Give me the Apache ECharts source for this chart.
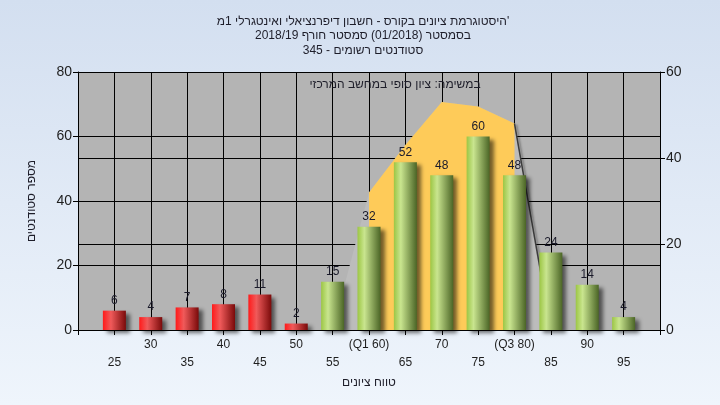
<!DOCTYPE html>
<html>
<head>
<meta charset="utf-8">
<script src="https://cdn.jsdelivr.net/npm/echarts@6/dist/echarts.min.js"></script>
<style>
html,body{margin:0;padding:0;width:720px;height:405px;overflow:hidden;}
#c{width:720px;height:405px;}
</style>
</head>
<body>
<div id="c"></div>
<script>
const titleLines = [
  "היסטוגרמת ציונים בקורס - חשבון דיפרנציאלי ואינטגרלי 1מ'",
  "בסמסטר (01/2018) סמסטר חורף 2018/19",
  "סטודנטים רשומים - 345"
];
const noteText = "במשימה: ציון סופי במחשב המרכזי";
const xAxisName = "טווח ציונים";
const yAxisName = "מספר סטודנטים";
const categories = ['25','30','35','40','45','50','55','(Q1 60)','65','70','75','(Q3 80)','85','90','95'];
const students = [6,4,7,8,11,2,15,32,52,48,60,48,24,14,4];
const failCount = 6; // first six categories shown in red
const curveOutline = [null,null,null,null,null,null,0,32,43,53,52,48,0,0,null];
const curveQuartile = [null,null,null,null,null,null,null,32,43,53,52,48,null,null,null];
const curveDrop = [null,null,null,null,null,null,null,null,null,null,null,48,0,null,null];
const leftTicks = {min:0,max:80,interval:20};
const rightTicks = {min:0,max:60,interval:20};

const pad = arr => [null].concat(arr, [null]);
const xData = [''].concat(categories, ['']);

const redGrad = new echarts.graphic.LinearGradient(0,0,1,0,[
  {offset:0,color:'#ff1a1a'},{offset:0.35,color:'#f05a5a'},{offset:1,color:'#7a0a0a'}]);
const greenGrad = new echarts.graphic.LinearGradient(0,0,1,0,[
  {offset:0,color:'#9cc644'},{offset:0.3,color:'#c9e58f'},{offset:1,color:'#4b6526'}]);

const chart = echarts.init(document.getElementById('c'), null, {renderer:'canvas'});
const font = "'Liberation Sans', 'DejaVu Sans', Arial, sans-serif";
chart.setOption({
  animation:false,
  backgroundColor:{type:'linear',x:0,y:0,x2:0,y2:1,colorStops:[{offset:0,color:'#d3dff0'},{offset:1,color:'#eff5fc'}]},
  textStyle:{fontFamily:font},
  title:{
    text:titleLines.join('\n'),
    left:358, top:9, textAlign:'center',
    textStyle:{fontSize:12,fontWeight:'normal',color:'#1e1e2a',lineHeight:14.5,fontFamily:font}
  },
  graphic:[{
    type:'text', x:395, y:79, z:10,
    style:{text:noteText, font:"12px "+font, fill:'#1e1e2a', align:'center'}
  }],
  grid:{left:78,right:60,top:72,bottom:75,show:true,backgroundColor:'#b4b4b4',borderWidth:0},
  xAxis:{
    type:'category', data:xData, boundaryGap:false,
    name:xAxisName, nameLocation:'middle', nameGap:45,
    nameTextStyle:{fontSize:12,color:'#1e1e2a',fontFamily:font},
    axisLine:{lineStyle:{color:'#000',width:1}},
    axisTick:{show:true,interval:0,length:5,lineStyle:{color:'#000'}},
    splitLine:{show:true,interval:0,lineStyle:{color:'#000',width:1}},
    axisLabel:{interval:0,margin:6,fontSize:12,color:'#1e1e1e',lineHeight:18,
      formatter:function(v,i){ if(v==='') return ''; return (i%2===1)?('\n'+v):v; }}
  },
  yAxis:[{
    type:'value', min:leftTicks.min, max:leftTicks.max, interval:leftTicks.interval,
    name:yAxisName, nameLocation:'middle', nameGap:40, nameRotate:90,
    nameTextStyle:{fontSize:12,color:'#1e1e2a',fontFamily:font},
    axisLine:{show:true,lineStyle:{color:'#000'}},
    axisTick:{show:true,length:5,lineStyle:{color:'#000'}},
    splitLine:{show:true,lineStyle:{color:'#000',width:1}},
    axisLabel:{fontSize:14,color:'#1e1e1e',margin:6}
  },{
    type:'value', min:rightTicks.min, max:rightTicks.max, interval:rightTicks.interval,
    position:'right',
    axisLine:{show:true,lineStyle:{color:'#000'}},
    axisTick:{show:true,length:5,lineStyle:{color:'#000'}},
    splitLine:{show:true,lineStyle:{color:'#000',width:1}},
    axisLabel:{fontSize:14,color:'#1e1e1e',margin:6}
  }],
  series:[{
    type:'line', yAxisIndex:1, data:pad(curveOutline), symbol:'none', z:2,
    lineStyle:{width:0,color:'#bdbdbd'}, areaStyle:{color:'#bcbcbc',opacity:1}
  },{
    type:'line', yAxisIndex:1, data:pad(curveQuartile), symbol:'none', z:3,
    lineStyle:{width:0,color:'#fecb59'}, areaStyle:{color:'#fecb59',opacity:1}
  },{
    type:'line', yAxisIndex:1, data:pad(curveDrop), symbol:'none', z:3,
    lineStyle:{width:1.5,color:'#3c3c3c',shadowColor:'rgba(0,0,0,0.35)',shadowBlur:2,shadowOffsetX:2,shadowOffsetY:1}
  },{
    type:'bar', yAxisIndex:0, data:pad(students), barWidth:23, z:5,
    itemStyle:{
      color:function(p){ return (p.dataIndex-1) < failCount ? redGrad : greenGrad; },
      shadowColor:'rgba(0,0,0,0.55)', shadowBlur:4, shadowOffsetX:4, shadowOffsetY:3
    },
    label:{show:true,position:'top',distance:4,fontSize:12,color:'#1a1a2a',fontFamily:font}
  }]
});
</script>
</body>
</html>
